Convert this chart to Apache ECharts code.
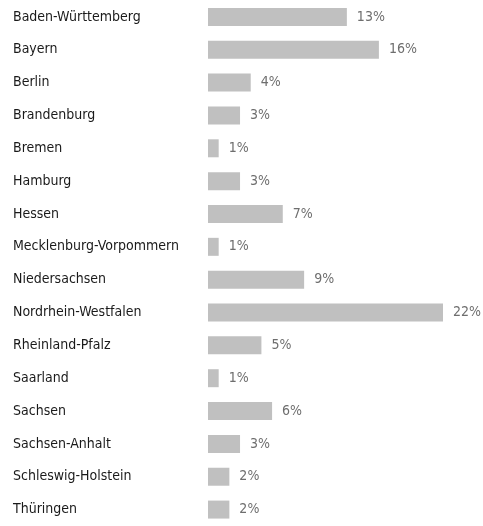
<!DOCTYPE html>
<html>
<head>
<meta charset="utf-8">
<script src="https://cdn.jsdelivr.net/npm/echarts@6/dist/echarts.min.js"></script>
<style>
  html, body { margin: 0; padding: 0; background: #fff; }
  #chart { width: 483px; height: 526px; }
</style>
</head>
<body>
<div id="chart"></div>
<script>
// Federal states and their shares in percent
var states = [
  'Baden-Württemberg', 'Bayern', 'Berlin', 'Brandenburg', 'Bremen', 'Hamburg',
  'Hessen', 'Mecklenburg-Vorpommern', 'Niedersachsen', 'Nordrhein-Westfalen',
  'Rheinland-Pfalz', 'Saarland', 'Sachsen', 'Sachsen-Anhalt',
  'Schleswig-Holstein', 'Thüringen'
];
var shares = [13, 16, 4, 3, 1, 3, 7, 1, 9, 22, 5, 1, 6, 3, 2, 2];

var FONT = '"DejaVu Sans Condensed", "DejaVu Sans", sans-serif';

var chart = echarts.init(document.getElementById('chart'), null, { renderer: 'canvas' });
chart.setOption({
  animation: false,
  grid: { left: 208, right: 40, top: 0.5, height: 528, containLabel: false },
  xAxis: {
    type: 'value', min: 0, max: 22, show: false
  },
  yAxis: {
    type: 'category',
    data: states,
    inverse: true,
    axisLine: { show: false },
    axisTick: { show: false },
    splitLine: { show: false },
    axisLabel: {
      align: 'left',
      margin: 195,
      color: '#1a1a1a',
      fontFamily: FONT,
      fontSize: 14,
      padding: [3, 0, 0, 0]
    }
  },
  series: [{
    type: 'bar',
    data: shares,
    barWidth: 18,
    itemStyle: { color: '#c0c0c0' },
    label: {
      show: true,
      position: 'right',
      distance: 10,
      color: '#6e6e6e',
      fontFamily: FONT,
      fontSize: 14,
      padding: [3, 0, 0, 0],
      formatter: function (p) { return p.value + '%'; }
    }
  }]
});
</script>
</body>
</html>
